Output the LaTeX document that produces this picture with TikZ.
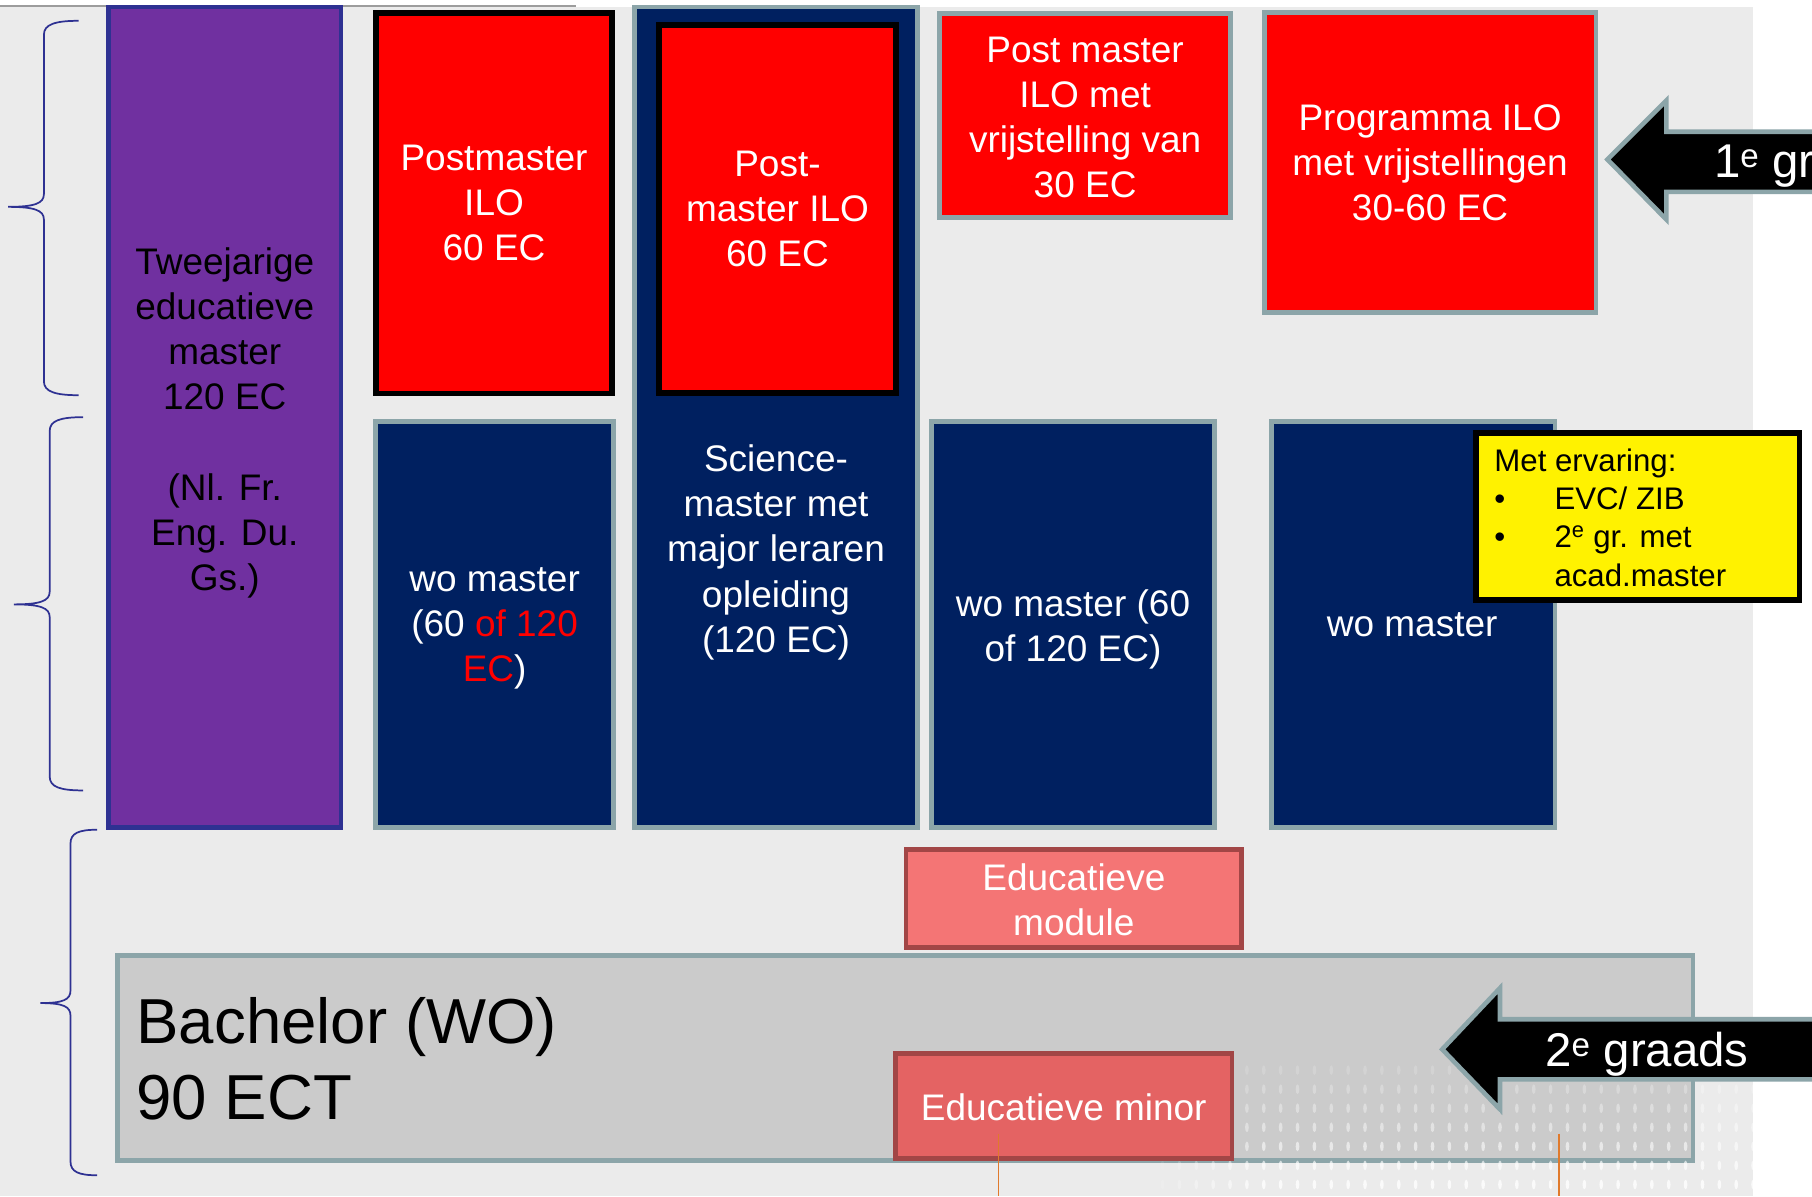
\documentclass[tikz,border=0pt]{standalone}
\usepackage{fontspec}
\setmainfont{Liberation Sans}
\definecolor{bg}{HTML}{EBEBEB}
\definecolor{edgegray}{HTML}{8CA5A9}
\definecolor{navy}{HTML}{002060}
\definecolor{purp}{HTML}{7030A0}
\definecolor{purpedge}{HTML}{2E3192}
\definecolor{bachfill}{HTML}{CBCBCB}
\definecolor{modfill}{HTML}{F47575}
\definecolor{minfill}{HTML}{E46363}
\definecolor{darkred}{HTML}{A24646}
\definecolor{bracecol}{HTML}{2E3192}
\definecolor{orangeline}{HTML}{E07A2C}
\definecolor{toplinecol}{HTML}{9C9C9C}
\tikzset{
  cellbox/.style={rectangle, inner sep=0pt, line width=4pt, draw=edgegray},
  navybox/.style={cellbox, fill=navy},
  redblack/.style={cellbox, fill=red, draw=black, line width=5pt},
  redgray/.style={cellbox, fill=red},
  purplebox/.style={cellbox, fill=purp, draw=purpedge},
  yellowbox/.style={cellbox, fill=yellow, draw=black, line width=5pt},
  modbox/.style={cellbox, fill=modfill, draw=darkred, line width=4pt},
  minbox/.style={cellbox, fill=minfill, draw=darkred, line width=4pt},
  bachbox/.style={cellbox, fill=bachfill},
  txt/.style={inner sep=0pt, align=center, font=\fontsize{32}{39}\selectfont},
  wtxt/.style={txt, text=white},
  btxt/.style={txt, text=black},
  arrowtxt/.style={inner sep=0pt, text=white, font=\fontsize{41}{48}\selectfont},
  bracepath/.style={draw=bracecol, line width=1.5pt},
  bigarrow/.style={fill=black, draw=edgegray, line width=4pt, line join=miter},
  thinorange/.style={draw=orangeline, line width=1.2pt},
}
\begin{document}
\begin{tikzpicture}[x=1pt,y=-1pt]
\useasboundingbox (0,0) rectangle (1568,1035);
\clip (0,0) rectangle (1568,1035);
\fill[white] (0,0) rectangle (1568,1035);
\fill[bg] (0,6) rectangle (1517,1035);
\draw[toplinecol, line width=1.5pt] (0,5.5) -- (498,5.5);

% braces
\draw[bracepath] (68,18) .. controls (48,18) and (38,21) .. (38,30) -- (38,168)
  .. controls (38,176) and (30,179) .. (7,179) .. controls (30,179) and (38,182) .. (38,190)
  -- (38,330) .. controls (38,339) and (48,342) .. (68,342);
\draw[bracepath] (72,361) .. controls (52,361) and (43,364) .. (43,373) -- (43,512)
  .. controls (43,520) and (35,523) .. (12,523) .. controls (35,523) and (43,526) .. (43,534)
  -- (43,672) .. controls (43,681) and (52,684) .. (72,684);
\draw[bracepath] (84,718) .. controls (68,718) and (61,721) .. (61,730) -- (61,857)
  .. controls (61,865) and (55,868) .. (35,868) .. controls (55,868) and (61,871) .. (61,879)
  -- (61,1005) .. controls (61,1014) and (68,1017) .. (84,1017);

% master column boxes
\node[purplebox, minimum width=201pt, minimum height=710pt] (twee) at (194.5,361.2) {};
\node[btxt] (tweetxt) at (194.5,366) {Tweejarige\\educatieve\\master\\120 EC\\[39pt](Nl. Fr.\\Eng. Du.\\Gs.)};

\node[redblack, minimum width=204pt, minimum height=329pt] (pm1) at (427.5,176) {};
\node[wtxt] (pm1txt) at (427.5,176) {Postmaster\\ILO\\60 EC};

\node[navybox, minimum width=245pt, minimum height=710pt] (sci) at (671.5,361.2) {};
\node[redblack, minimum width=204.5pt, minimum height=318.7pt] (pm2) at (672.75,181) {};
\node[wtxt] (pm2txt) at (672.75,181) {Post-\\master ILO\\60 EC};
\node[wtxt] (scitxt) at (671.5,478) {Science-\\master met\\major leraren\\opleiding\\(120 EC)};

\node[redgray, minimum width=252pt, minimum height=176.5pt] (pmv) at (939,99.75) {};
\node[wtxt] (pmvtxt) at (939,101.5) {Post master\\ILO met\\vrijstelling van\\30 EC};

\node[redgray, minimum width=287pt, minimum height=260pt] (prog) at (1237.5,140.6) {};
\node[wtxt] (progtxt) at (1237.5,141) {Programma ILO\\met vrijstellingen\\30-60 EC};

\node[navybox, minimum width=206pt, minimum height=351pt] (wo1) at (428,540.5) {};
\node[wtxt] (wo1txt) at (428,544) {wo master\\(60 \textcolor{red}{of 120}\\\textcolor{red}{EC})};

\node[navybox, minimum width=245pt, minimum height=351pt] (wo2) at (928.5,540.5) {};
\node[wtxt] (wo2txt) at (928.5,545) {wo master (60\\of 120 EC)};

\node[navybox, minimum width=245pt, minimum height=351pt] (wo3) at (1223,540.5) {};
\node[wtxt] (wo3txt) at (1222,541) {wo master};

\node[yellowbox, minimum width=279.6pt, minimum height=145pt] (yel) at (1417.3,447) {};
\node[inner sep=0pt, anchor=west, align=left, font=\fontsize{27}{33}\selectfont] (yeltxt) at (1293,448)
  {Met ervaring:\\\makebox[52pt][l]{•}EVC/ ZIB\\\makebox[52pt][l]{•}2\textsuperscript{e} gr. met\\\hspace*{52pt}acad.master};

% bachelor level
\node[modbox, minimum width=290.5pt, minimum height=85pt] (mod) at (929.25,777.5) {};
\node[wtxt] (modtxt) at (929.25,779) {Educatieve\\module};

\node[bachbox, minimum width=1363.5pt, minimum height=177pt] (bach) at (783.25,915.5) {};
\node[inner sep=0pt, anchor=base west, font=\fontsize{55}{65}\selectfont] (bach1) at (118,903) {Bachelor (WO)};
\node[inner sep=0pt, anchor=base west, font=\fontsize{55}{65}\selectfont] (bach2) at (118,969) {90 ECT};

% texture
\foreach \i in {0,...,35}{\foreach \j in {0,...,6}{
  \pgfmathsetmacro\op{min(1,(\i+1)/7)*(0.16+0.1*\j)}
  \fill[white, opacity=\op] ({1006+14.6*\i},{926+16.5*\j}) ellipse (1.6 and 4.2);
}}

\node[minbox, minimum width=291pt, minimum height=91pt] (minor) at (920.5,957) {};
\node[wtxt] (minortxt) at (920.5,958) {Educatieve minor};

% arrows
\draw[bigarrow] (1391,138) -- (1442,87) -- (1442,114) -- (1590,114) -- (1590,166) -- (1442,166) -- (1442,190) -- cycle;
\node[arrowtxt, anchor=base west] (a1txt) at (1483,154) {1\textsuperscript{e} gr};
\draw[bigarrow] (1248,908) -- (1298,855) -- (1298,882) -- (1590,882) -- (1590,934) -- (1298,934) -- (1298,960) -- cycle;
\node[arrowtxt, anchor=base west] (a2txt) at (1337,923) {2\textsuperscript{e} graads};

% orange lines
\coordinate (o1) at (864,981);
\coordinate (o1b) at (864,1035);
\coordinate (o2) at (1349,981);
\coordinate (o2b) at (1349,1035);
\draw[thinorange] (o1) -- (o1b);
\draw[thinorange] (o2) -- (o2b);
\end{tikzpicture}
\end{document}
